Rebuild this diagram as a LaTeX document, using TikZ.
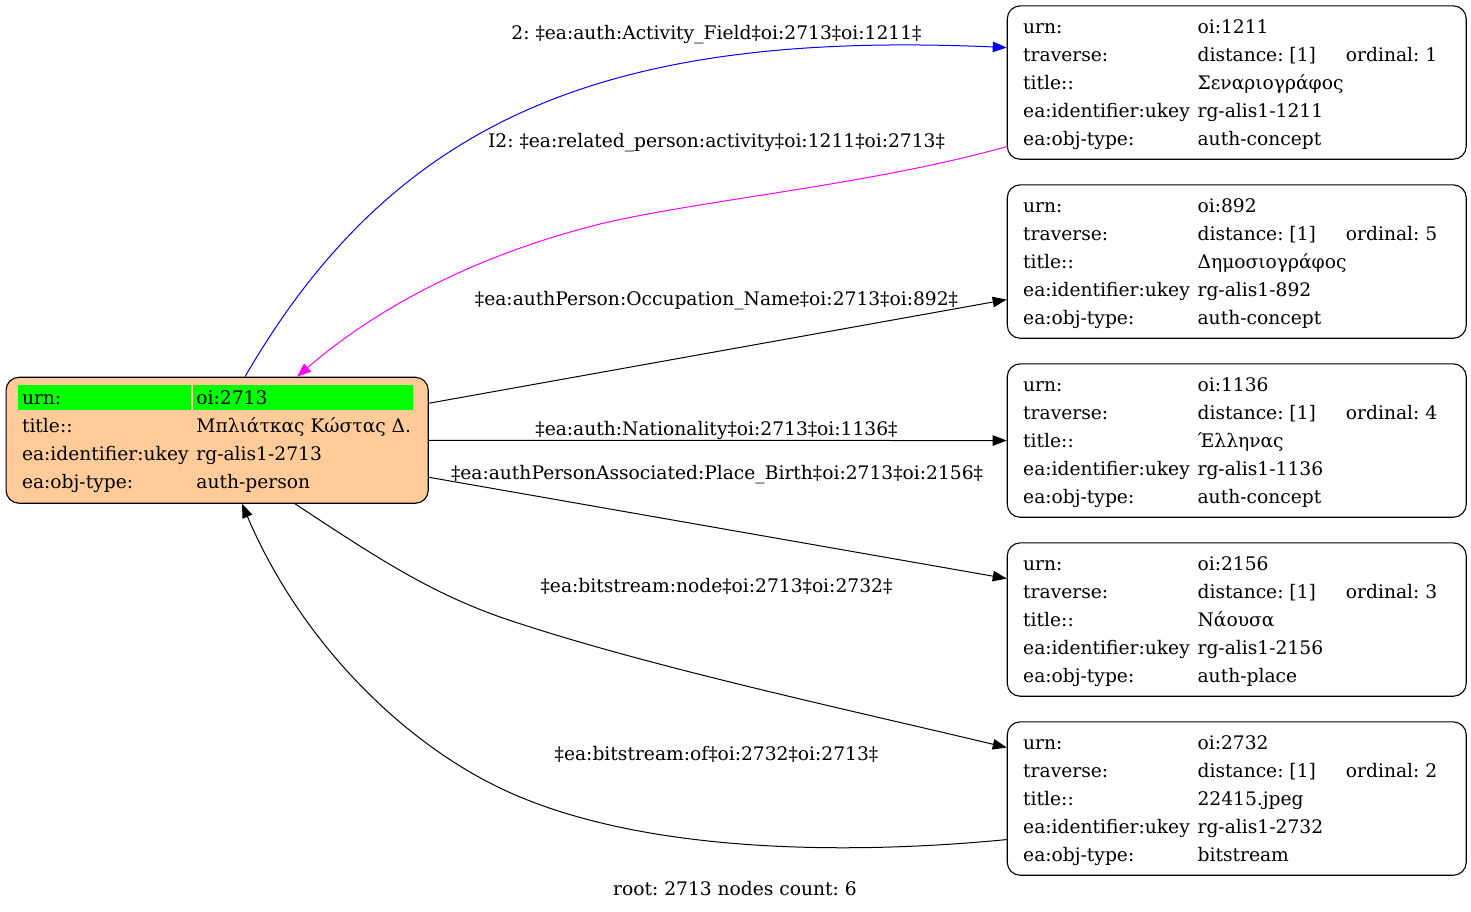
\documentclass[tikz,border=0pt]{standalone}
\usepackage{fontspec}
\setmainfont{DejaVu Serif}
\usetikzlibrary{calc,arrows.meta}
\definecolor{peach}{HTML}{FFCC99}
\definecolor{cellgreen}{HTML}{00FF00}
\definecolor{eblue}{HTML}{0000FF}
\definecolor{emag}{HTML}{FF00FF}
\newcommand\dvfont{\fontsize{18.67}{22}\selectfont\frenchspacing}
\newcommand\rowbase{28.3}
\newcommand\krow[4]{%
  \node[txt] (#1k#2) at ($(#1.north west)+(16.3,{\rowbase+28*#2})$) {#3};
  \node[txt] (#1v#2) at ($(#1.north west)+(190.7,{\rowbase+28*#2})$) {#4};}
\begin{document}
\begin{tikzpicture}[x=1pt,y=-1pt,
  box/.style={draw=black, line width=1.1pt, rounded corners=13pt, minimum width=459pt, minimum height=153.4pt, inner sep=0pt, anchor=north west},
  rootbox/.style={draw=black, fill=peach, line width=1.1pt, rounded corners=13pt, minimum width=422.2pt, minimum height=126pt, inner sep=0pt, anchor=north west},
  txt/.style={anchor=base west, inner sep=0pt, font=\dvfont},
  lbl/.style={anchor=base, inner sep=0pt, font=\dvfont},
  edge/.style={line width=1pt, -{Triangle[length=14pt,width=10.5pt]}},
]
\useasboundingbox (0,0) rectangle (1471,911);

% root node
\node[rootbox] (root) at (5.5,376.7) {};
\fill[cellgreen] ($(root.north west)+(12.8,8)$) rectangle ($(root.north west)+(185.2,33.7)$);
\fill[cellgreen] ($(root.north west)+(187.8,8)$) rectangle ($(root.north west)+(407.8,33.7)$);
\renewcommand\rowbase{27.3}
\krow{root}{0}{urn:}{oi:2713}
\krow{root}{1}{title::}{Μπλιάτκας Κώστας Δ.}
\krow{root}{2}{ea:identifier:ukey}{rg-alis1-2713}
\krow{root}{3}{ea:obj-type:}{auth-person}

% right nodes
\renewcommand\rowbase{28.4}
\node[box] (n1) at (1006.7,5.3) {};
\krow{n1}{0}{urn:}{oi:1211}
\krow{n1}{1}{traverse:}{distance: [1]}
\node[txt] (n1o) at ($(n1.north west)+(339,{\rowbase+28})$) {ordinal: 1};
\krow{n1}{2}{title::}{Σεναριογράφος}
\krow{n1}{3}{ea:identifier:ukey}{rg-alis1-1211}
\krow{n1}{4}{ea:obj-type:}{auth-concept}

\node[box] (n2) at (1006.7,184.3) {};
\krow{n2}{0}{urn:}{oi:892}
\krow{n2}{1}{traverse:}{distance: [1]}
\node[txt] (n2o) at ($(n2.north west)+(339,{\rowbase+28})$) {ordinal: 5};
\krow{n2}{2}{title::}{Δημοσιογράφος}
\krow{n2}{3}{ea:identifier:ukey}{rg-alis1-892}
\krow{n2}{4}{ea:obj-type:}{auth-concept}

\node[box] (n3) at (1006.7,363.3) {};
\krow{n3}{0}{urn:}{oi:1136}
\krow{n3}{1}{traverse:}{distance: [1]}
\node[txt] (n3o) at ($(n3.north west)+(339,{\rowbase+28})$) {ordinal: 4};
\krow{n3}{2}{title::}{Έλληνας}
\krow{n3}{3}{ea:identifier:ukey}{rg-alis1-1136}
\krow{n3}{4}{ea:obj-type:}{auth-concept}

\node[box] (n4) at (1006.7,542.3) {};
\krow{n4}{0}{urn:}{oi:2156}
\krow{n4}{1}{traverse:}{distance: [1]}
\node[txt] (n4o) at ($(n4.north west)+(339,{\rowbase+28})$) {ordinal: 3};
\krow{n4}{2}{title::}{Νάουσα}
\krow{n4}{3}{ea:identifier:ukey}{rg-alis1-2156}
\krow{n4}{4}{ea:obj-type:}{auth-place}

\node[box] (n5) at (1006.7,721.3) {};
\krow{n5}{0}{urn:}{oi:2732}
\krow{n5}{1}{traverse:}{distance: [1]}
\node[txt] (n5o) at ($(n5.north west)+(339,{\rowbase+28})$) {ordinal: 2};
\krow{n5}{2}{title::}{22415.jpeg}
\krow{n5}{3}{ea:identifier:ukey}{rg-alis1-2732}
\krow{n5}{4}{ea:obj-type:}{bitstream}

% edges
\draw[edge, eblue] ($(root.north west)+(239.5,0)$) .. controls (395,118) and (607,30) .. ($(n1.west)+(0,-35)$);
\draw[edge, emag] ($(n1.west)+(0,64)$) .. controls (870,185) and (700,200) .. (600,224) .. controls (480,254) and (380,305) .. ($(root.north west)+(291.5,0)$);
\draw[edge] ($(root.east)+(0,-37)$) -- ($(n2.west)+(0,38)$);
\draw[edge] (root.east) -- (n3.west);
\draw[edge] ($(root.east)+(0,37)$) -- ($(n4.west)+(0,-41)$);
\draw[edge] ($(root.south west)+(289.5,0)$) .. controls (380,560) and (430,592) .. (500,617) .. controls (640,665) and (850,710) .. ($(n5.west)+(0,-51)$);
\draw[edge] ($(n5.west)+(0,41)$) .. controls (880,852) and (650,860) .. (500,788) .. controls (400,740) and (300,640) .. ($(root.south west)+(236.5,0)$);

% labels
\node[lbl] (l1) at (716.5,39) {2: ‡ea:auth:Activity\_Field‡oi:2713‡oi:1211‡};
\node[lbl] (l2) at (716.5,147) {I2: ‡ea:related\_person:activity‡oi:1211‡oi:2713‡};
\node[lbl] (l3) at (716.5,305) {‡ea:authPerson:Occupation\_Name‡oi:2713‡oi:892‡};
\node[lbl] (l4) at (716.5,435) {‡ea:auth:Nationality‡oi:2713‡oi:1136‡};
\node[lbl] (l5) at (717,479) {‡ea:authPersonAssociated:Place\_Birth‡oi:2713‡oi:2156‡};
\node[lbl] (l6) at (716.5,592) {‡ea:bitstream:node‡oi:2713‡oi:2732‡};
\node[lbl] (l7) at (716.5,760) {‡ea:bitstream:of‡oi:2732‡oi:2713‡};
\node[lbl] (footer) at (735,895) {root: 2713 nodes count: 6};
\end{tikzpicture}
\end{document}
